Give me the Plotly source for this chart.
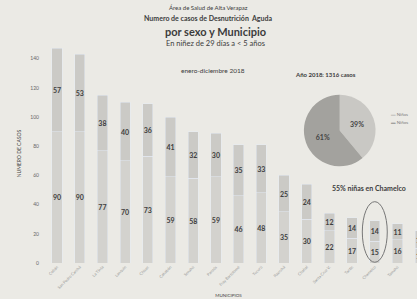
import plotly.graph_objects as go

municipios = ["Cobán", "San Pedro Carchá", "La Tinta", "Lanquín", "Chisec", "Cahabón",
              "Senahú", "Panzós", "Fray Bartolomé", "Tucurú", "Raxruhá", "Chahal",
              "Santa Cruz V.", "Tactic", "Chamelco", "Tamahú", "San Cristóbal"]
ninos = [90, 90, 77, 70, 73, 59, 58, 59, 46, 48, 35, 30, 22, 17, 15, 16, 10]
ninas = [57, 53, 38, 40, 36, 41, 32, 30, 35, 33, 25, 24, 12, 14, 14, 11, 12]
pie_labels = ["Niñas", "Niños"]
pie_pct = [39, 61]
total_casos = 1316
y_ticks = [0, 20, 40, 60, 80, 100, 120, 140]
destacado = "Chamelco"

bar_col_a = "#d3d2ce"
bar_col_b = "#cbcac6"
pie_cols = ["#c9c8c4", "#a3a29e"]
txt = "#3c3c3c"
bg = "#ebeae5"

fig = go.Figure()
for vals, nm, col in [(ninos, "Niños", bar_col_a), (ninas, "Niñas", bar_col_b)]:
    fig.add_trace(go.Bar(x=municipios, y=vals, name=nm, marker_color=col,
                         text=vals, textposition="inside", insidetextanchor="middle",
                         constraintext="none", textangle=0,
                         textfont=dict(size=7, color="#404040", family="Lato"),
                         texttemplate="<b>%{text}</b>",
                         width=0.45, showlegend=False, hoverinfo="skip"))
fig.add_trace(go.Pie(labels=pie_labels, values=pie_pct, sort=False, direction="clockwise",
                     marker=dict(colors=pie_cols),
                     textinfo="percent", textfont=dict(size=7, color="#444", family="Lato"),
                     texttemplate="<b>%{percent:.0%}</b>", hoverinfo="skip",
                     domain=dict(x=[0.70, 0.89], y=[0.44, 0.77]), showlegend=False))

idx = municipios.index(destacado)
tot = ninos[idx] + ninas[idx]
fig.add_shape(type="circle", xref="x", yref="y", x0=idx - 0.55, x1=idx + 0.55,
              y0=0.5, y1=tot + 13, line=dict(color="#777", width=1))

fig.update_layout(
    width=417, height=299, barmode="stack",
    paper_bgcolor=bg, plot_bgcolor=bg,
    margin=dict(l=40, r=0, t=44, b=36),
    font=dict(family="Lato", color=txt),
    xaxis=dict(range=[-0.75, 15.86], tickangle=-45, tickfont=dict(size=4, color="#9a9a9a"),
               showgrid=False, showline=False, zeroline=False, ticks="", automargin=False,
               title=dict(text="MUNICIPIOS", font=dict(size=4.5, color="#444"), standoff=4)),
    yaxis=dict(range=[0, 150], tickvals=y_ticks, tickfont=dict(size=5, color="#666"),
               showgrid=False, zeroline=False, showline=False, automargin=False,
               title=dict(text="NUMERO DE CASOS", font=dict(size=5, color="#444"), standoff=8)),
)

anns = [
    ("Área de Salud de Alta Verapaz", 208, 7, 6, False),
    ("Numero de casos de Desnutrición  Aguda", 208, 18, 7, True),
    ("por sexo y Municipio", 215, 31, 11, True),
    ("En niñez de 29 días a < 5 años", 215, 43, 7.5, False),
    ("enero-diciembre 2018", 213, 70, 6.5, False),
    (f"Año 2018: {total_casos} casos", 325, 74, 6, True),
]
for t, px, py, sz, b in anns:
    fig.add_annotation(text=f"<b>{t}</b>" if b else t, xref="paper", yref="paper",
                       x=(px - 40) / 377, y=(263 - py) / 219, showarrow=False,
                       xanchor="center", yanchor="middle",
                       font=dict(size=sz, color=txt, family="Lato"))
fig.add_annotation(text="<b>55% niñas en Chamelco</b>", xref="paper", yref="paper",
                   x=(330 - 40) / 377, y=(263 - 188) / 219, showarrow=False,
                   xanchor="left", yanchor="middle",
                   font=dict(size=7, color=txt, family="Lato"))
for i, (lab, col) in enumerate(zip(pie_labels, pie_cols)):
    fig.add_annotation(text=f"<span style='color:{col}'>▬</span> {lab}", xref="paper", yref="paper",
                       x=(389 - 40) / 377, y=(263 - (114 + 8 * i)) / 219, showarrow=False,
                       xanchor="left", yanchor="middle",
                       font=dict(size=4.5, color="#7a7a7a", family="Lato"))

fig.write_html("out.html", config={"displayModeBar": False})
with open("out.html", encoding="utf-8") as f:
    html = f.read()
html = html.replace("<head>", "<head><style>html,body{margin:0;padding:0;overflow:hidden;}</style>", 1)
with open("out.html", "w", encoding="utf-8") as f:
    f.write(html)
